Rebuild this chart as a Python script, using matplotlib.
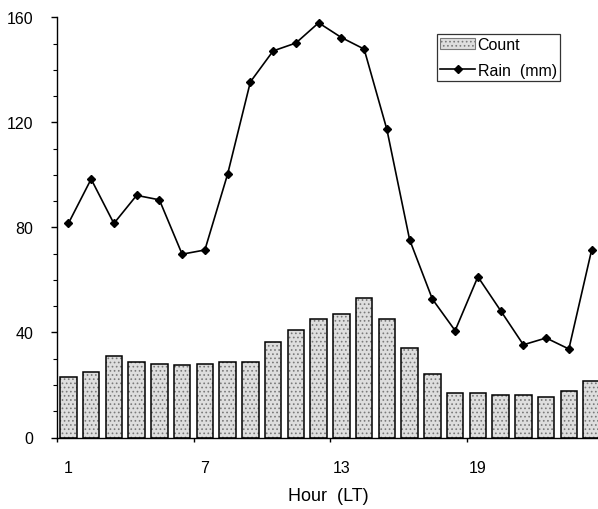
import matplotlib
matplotlib.use('Agg')
import matplotlib.pyplot as plt
from matplotlib.patches import Patch
import numpy as np

hours = list(range(1, 25))
count = [23.0, 25.0, 31.0, 28.7, 28.1, 27.5, 28.1, 28.7, 28.7, 36.4, 41.0, 45.2,
         47.0, 53.2, 45.1, 34.2, 24.0, 17.1, 17.1, 16.1, 16.2, 15.5, 17.8, 21.5]
rain = [81.5, 98.4, 81.5, 92.2, 90.5, 69.8, 71.4, 100.3, 135.4, 147.2, 150.2, 157.9,
        152.3, 147.9, 117.3, 75.3, 52.7, 40.7, 61.2, 48.3, 35.3, 37.9, 33.7, 71.4]
xlabels = ['1', '7', '13', '19']
ylabels = [0, 40, 80, 120, 160]

plt.rcParams['font.family'] = ['Liberation Sans', 'DejaVu Sans']
plt.rcParams['hatch.linewidth'] = 0.7

fig = plt.figure(figsize=(5.98, 5.10), dpi=100)
ax = fig.add_axes([57/598, 71.5/510, (598-57)/598, 420.2/510])

# stippled fill, then black outline on top
ax.bar(hours, count, width=0.73, color='#dedede', edgecolor='#7a7a7a',
       hatch='....', linewidth=0, zorder=2)
ax.bar(hours, count, width=0.73, fill=False, edgecolor='black', linewidth=1.1, zorder=3)

line, = ax.plot(hours, rain, color='black', linewidth=1.2, marker='D', markersize=4.5,
                zorder=4)

ax.set_xlim(0.5, 24.28)
ax.set_ylim(0, 160)

for s in ['top', 'right']:
    ax.spines[s].set_visible(False)
ax.spines['left'].set_linewidth(1.0)
ax.spines['bottom'].set_linewidth(1.0)

# category boundary ticks, labels centred on bars
ax.set_xticks([0.5, 6.5, 12.5, 18.5])
ax.set_xticklabels([])
ax.set_xticks([int(x) for x in xlabels], minor=True)
ax.set_xticklabels(xlabels, minor=True)
ax.tick_params(axis='x', which='major', direction='out', length=3, width=1)
ax.tick_params(axis='x', which='minor', length=0, pad=16, labelsize=11.5)

ax.set_yticks(ylabels)
ax.set_yticks(np.arange(0, 161, 10), minor=True)
ax.tick_params(axis='y', which='major', direction='out', length=4, width=1, pad=13, labelsize=11.5)
ax.tick_params(axis='y', which='minor', direction='out', length=3, width=0.8)

ax.set_xlabel('Hour  (LT)', fontsize=13, va='center')
ax.xaxis.set_label_coords((328-57)/541, -(497-438.5)/420.2)

handles = [Patch(facecolor='#dedede', edgecolor='#7a7a7a', hatch='....', linewidth=0.8),
           line]
leg = ax.legend(handles, ['Count', 'Rain  (mm)'], loc='upper left',
                bbox_to_anchor=((437-57)/541, (438.5-35)/420.2),
                fontsize=11.5, frameon=True, fancybox=False, borderpad=0.2,
                handlelength=2.2, handleheight=0.6, handletextpad=0.15,
                labelspacing=0.65, borderaxespad=0)
leg.get_frame().set_edgecolor('black')
leg.get_frame().set_linewidth(0.9)

fig.savefig('out.png', dpi=100)
